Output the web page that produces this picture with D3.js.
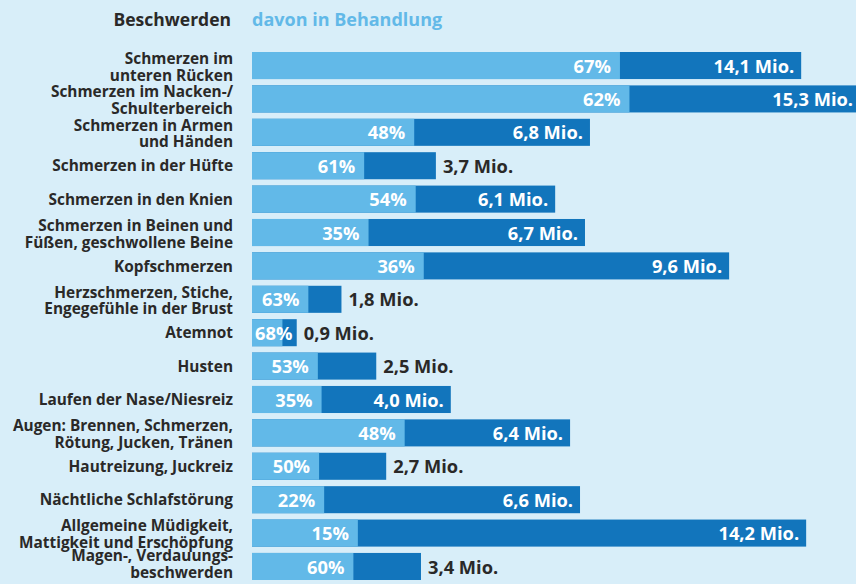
<!DOCTYPE html>
<meta charset="utf-8">
<style>
  body { margin: 0; background: #d8eef9; }
  svg { display: block; font-family: "Open Sans", Lato, sans-serif; font-weight: bold; }
</style>
<body>
<svg width="856" height="584"></svg>
<script src="https://d3js.org/d3.v7.min.js"></script>
<script>

var categories = [
  "Schmerzen im\nunteren Rücken",
  "Schmerzen im Nacken-/\nSchulterbereich",
  "Schmerzen in Armen\nund Händen",
  "Schmerzen in der Hüfte",
  "Schmerzen in den Knien",
  "Schmerzen in Beinen und\nFüßen, geschwollene Beine",
  "Kopfschmerzen",
  "Herzschmerzen, Stiche,\nEngegefühle in der Brust",
  "Atemnot",
  "Husten",
  "Laufen der Nase/Niesreiz",
  "Augen: Brennen, Schmerzen,\nRötung, Jucken, Tränen",
  "Hautreizung, Juckreiz",
  "Nächtliche Schlafstörung",
  "Allgemeine Müdigkeit,\nMattigkeit und Erschöpfung",
  "Magen-, Verdauungs-\nbeschwerden"
];
// Betroffene in Mio.
var totals = [14.1, 15.3, 6.8, 3.7, 6.1, 6.7, 9.6, 1.8, 0.9, 2.5, 4.0, 6.4, 2.7, 6.6, 14.2, 3.4];
// davon in Behandlung, %
var treated = [67, 62, 48, 61, 54, 35, 36, 63, 68, 53, 35, 48, 50, 22, 15, 60];

var svg = d3.select("svg"),
    width = +svg.attr("width"),
    height = +svg.attr("height");

var light = "#62b9e8", dark = "#1275bc", ink = "#2a2928";

// axis is broken between ~10 and ~13 Mio, so the long bars get shortened
var x = d3.scaleLinear()
    .domain([0, 10, 13.05, 16])
    .range([252, 749, 749, 895.6]);

// same scale without the break (the Müdigkeit bar is split on it in the source)
var xFull = d3.scaleLinear()
    .domain([0, 10])
    .range([252, 749]);

var y = d3.scaleBand()
    .domain(d3.range(categories.length))
    .range([52, 580])
    .paddingInner(0.19);

var rows = categories.map(function(c, i) {
  return { name: c, total: totals[i], pct: treated[i] };
});

function lightWidth(d) {
  if (d.pct < 20) return xFull(d.total * d.pct / 100) - xFull(0);
  return (x(d.total) - x(0)) * d.pct / 100;
}

// header
svg.append("text")
    .attr("x", 231).attr("y", 26)
    .attr("text-anchor", "end")
    .attr("font-size", 17.5)
    .attr("fill", ink)
    .text("Beschwerden");

svg.append("text")
    .attr("x", 252).attr("y", 26)
    .attr("font-size", 18)
    .attr("fill", light)
    .text("davon in Behandlung");

var row = svg.selectAll("g.row")
    .data(rows)
    .enter().append("g")
    .attr("class", "row")
    .attr("transform", function(d, i) { return "translate(0," + y(i) + ")"; });

var lineGap = 16.8;

// category labels
row.each(function(d, i) {
  var lines = d.name.split("\n");
  var top = lines.length == 1 ? 19.3 : 11.9;
  // keep the last label inside the picture
  if (lines.length > 1) top = Math.min(top, height - 6 - y(i) - lineGap);
  var t = d3.select(this).append("text")
      .attr("text-anchor", "end")
      .attr("font-size", 15.4)
      .attr("fill", ink);
  lines.forEach(function(l, k) {
    t.append("tspan")
        .attr("x", 233)
        .attr("y", top + k * lineGap)
        .text(l);
  });
});

// full bar (dark) and treated part (light)
row.append("rect")
    .attr("x", x(0))
    .attr("height", y.bandwidth())
    .attr("width", function(d) { return x(d.total) - x(0); })
    .attr("fill", dark);

row.append("rect")
    .attr("x", x(0))
    .attr("height", y.bandwidth())
    .attr("width", lightWidth)
    .attr("fill", light);

// percent labels
row.append("text")
    .attr("class", "pct")
    .attr("y", 20.6)
    .attr("text-anchor", "end")
    .attr("font-size", 18.3)
    .attr("fill", "#fff")
    .text(function(d) { return d.pct + "%"; })
    .attr("x", function(d) {
      var end = x(0) + lightWidth(d) - 9;
      var w = this.getComputedTextLength();
      return Math.max(end, x(0) + 3 + w);
    });

// total labels, inside the dark part if they fit
row.append("text")
    .attr("class", "tot")
    .attr("y", 20.6)
    .attr("font-size", 18.3)
    .text(function(d) { return String(d.total.toFixed(1)).replace(".", ",") + " Mio."; })
    .each(function(d) {
      var w = this.getComputedTextLength();
      var end = Math.min(x(d.total), width + 4);
      var darkW = x(d.total) - x(0) - lightWidth(d);
      var t = d3.select(this);
      if (darkW > w + 16) {
        t.attr("x", end - 7).attr("text-anchor", "end").attr("fill", "#fff");
      } else {
        t.attr("x", x(d.total) + 7).attr("text-anchor", "start").attr("fill", ink);
      }
    });

</script>
</body>
